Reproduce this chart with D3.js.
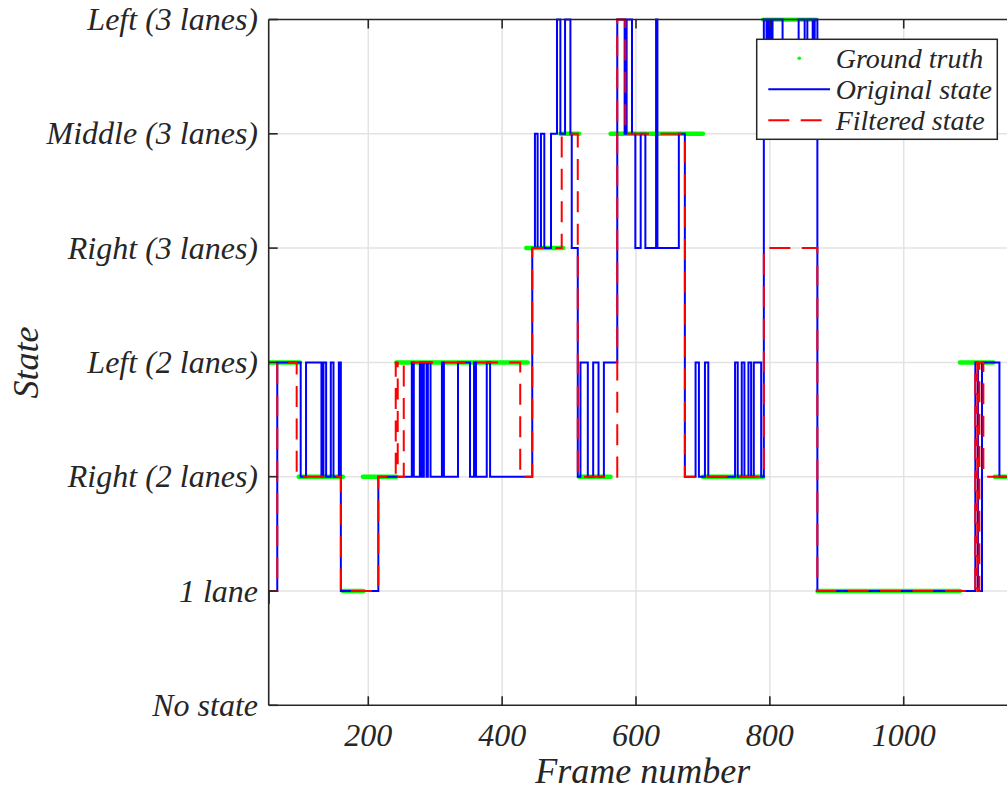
<!DOCTYPE html>
<html><head><meta charset="utf-8">
<script src="https://cdn.jsdelivr.net/npm/d3@7"></script>
<style>
body{margin:0;background:#fff;}
text{font-family:"Liberation Serif","Times New Roman",serif;font-style:italic;fill:#262626;}
</style></head>
<body><svg id="c" width="1007" height="790"></svg>
<script>
const stateLabels = ["No state","1 lane","Right (2 lanes)","Left (2 lanes)","Right (3 lanes)","Middle (3 lanes)","Left (3 lanes)"];
const xTicks = [200,400,600,800,1000];
const xDomain = [51.2, 1160];

// Original state: frames where the state changes, and the new state
const originalFrames = [51.2,51.6,64,99,107,130,133,137,144,148,156,159,215,265,268,277,280,283,287,289,293,310,313,334,352,358,361,377,382,445,449,453,458,463,473,482,487,494,502,504,513,517,528,536,544,552,572,583,586,594,599,607,614,630,632,664,673,689,694,703,708,748,752,758,762,768,772,776,787,791,795,798,801,804,819,843,852,856,864,867,871,1107,1111,1117,1143];
const originalStates = [0.9,1,3,2,3,2,3,2,3,2,3,1,2,3,2,3,2,3,2,3,2,3,2,3,2,3,2,3,2,4,5,4,5,4,5,6,5,6,5,4,2,3,2,3,2,3,6,5,6,5,4,5,4,6,4,5,2,3,2,3,2,3,2,3,2,3,2,3,2,6,5,6,5,6,5,6,5,6,5,6,1,3,1,3,2];

// Filtered state
const filteredFrames = [51.2,51.6,64,93,159,215,241,244,253,427,445,489,513,572,584,673,791,871,1107,1110,1113,1119];
const filteredStates = [0.9,1,3,2,1,2,3,2,3,2,4,5,2,6,5,2,4,1,3,1,3,2];

// Ground truth: labelled frame ranges
const truthStart = [51,96,162,192,242,436,487,515,562,700,790,871,1084,1136];
const truthEnd   = [98,162,193,242,438,491,515,562,700,790,869,1084,1134,1160];
const truthStates= [3,2,1,2,3,4,5,2,5,2,6,1,3,2];

const svg = d3.select("#c");
const L = 268.7, R = 1010.8, T = 19.5, B = 705.3;
const x = d3.scaleLinear().domain(xDomain).range([L, R]);
const y = d3.scaleLinear().domain([0, 6]).range([B, T]);
const axisColor = "#262626";

svg.append("rect").attr("width",1007).attr("height",790).attr("fill","#fff");

// grid
const grid = svg.append("g");
grid.selectAll(".gx").data(xTicks).join("line")
  .attr("x1", d=>x(d)).attr("x2", d=>x(d)).attr("y1", T).attr("y2", B)
  .attr("stroke", "#e3e3e3").attr("stroke-width", 1.5);
grid.selectAll(".gy").data(d3.range(1,6)).join("line")
  .attr("x1", L).attr("x2", R).attr("y1", d=>y(d)).attr("y2", d=>y(d))
  .attr("stroke", "#e3e3e3").attr("stroke-width", 1.5);

svg.append("clipPath").attr("id","clip").append("rect")
  .attr("x", L).attr("y", T-2).attr("width", R-L).attr("height", B-T+4);
const plot = svg.append("g").attr("clip-path","url(#clip)");

// ground truth
const truth = truthStart.map((s,i)=>({s, e: truthEnd[i], v: truthStates[i]}));
plot.selectAll(".gt").data(truth).join("line")
  .attr("x1", d=>x(d.s)).attr("x2", d=>x(d.e)).attr("y1", d=>y(d.v)).attr("y2", d=>y(d.v))
  .attr("stroke", "#00ff00").attr("stroke-width", 4.5).attr("stroke-linecap","round");

const line = d3.line().x(d=>x(d[0])).y(d=>y(d[1])).curve(d3.curveStepAfter);
const orig = originalFrames.map((f,i)=>[f, originalStates[i]]);
orig.push([xDomain[1], originalStates[originalStates.length-1]]);
const filt = filteredFrames.map((f,i)=>[f, filteredStates[i]]);
filt.push([xDomain[1], filteredStates[filteredStates.length-1]]);

plot.append("path").attr("d", line(orig)).attr("fill","none")
  .attr("stroke","#0000ff").attr("stroke-width",2).attr("stroke-linejoin","miter");
plot.append("path").attr("d", line(filt)).attr("fill","none")
  .attr("stroke","#ff0000").attr("stroke-width",2).attr("stroke-dasharray","21,11.4");

// axes box
const ax = svg.append("g").attr("stroke", axisColor).attr("stroke-width", 1.6).attr("fill","none");
ax.append("line").attr("x1",L).attr("x2",R).attr("y1",B).attr("y2",B);
ax.append("line").attr("x1",L).attr("x2",R).attr("y1",T).attr("y2",T);
ax.append("line").attr("x1",L).attr("x2",L).attr("y1",T).attr("y2",B);
// ticks
ax.selectAll(".tb").data(xTicks).join("line")
  .attr("x1", d=>x(d)).attr("x2", d=>x(d)).attr("y1", B).attr("y2", B-9);
ax.selectAll(".tt").data(xTicks).join("line")
  .attr("x1", d=>x(d)).attr("x2", d=>x(d)).attr("y1", T).attr("y2", T+9);
ax.selectAll(".tl").data(d3.range(0,7)).join("line")
  .attr("x1", L).attr("x2", L+9).attr("y1", d=>y(d)).attr("y2", d=>y(d));

// tick labels
svg.selectAll(".xl").data(xTicks).join("text")
  .attr("x", d=>x(d)).attr("y", 745.5).attr("text-anchor","middle")
  .attr("font-size", 32).text(d=>d);
svg.selectAll(".yl").data(stateLabels).join("text")
  .attr("x", 258).attr("y", (d,i)=>y(i)).attr("dy","0.33em").attr("text-anchor","end")
  .attr("font-size", 32).text(d=>d);

// axis titles
svg.append("text").attr("x", (L+R)/2 + 3).attr("y", 783).attr("text-anchor","middle")
  .attr("font-size", 36).text("Frame number");
svg.append("text").attr("transform", `translate(38,${(T+B)/2}) rotate(-90)`)
  .attr("text-anchor","middle").attr("font-size", 36).text("State");

// legend
const lg = svg.append("g");
lg.append("rect").attr("x",756.7).attr("y",39.3).attr("width",240.6).attr("height",100)
  .attr("fill","#fff").attr("stroke",axisColor).attr("stroke-width",1.5);
lg.append("circle").attr("cx",799.3).attr("cy",58.3).attr("r",1.8).attr("fill","#00ff00");
lg.append("line").attr("x1",768.3).attr("x2",830).attr("y1",89.3).attr("y2",89.3)
  .attr("stroke","#0000ff").attr("stroke-width",2);
lg.append("line").attr("x1",768.3).attr("x2",822).attr("y1",120.3).attr("y2",120.3)
  .attr("stroke","#ff0000").attr("stroke-width",2).attr("stroke-dasharray","21,11.4");
const legendTexts = ["Ground truth","Original state","Filtered state"];
lg.selectAll(".lt").data(legendTexts).join("text")
  .attr("x", 835.7).attr("y", (d,i)=>68.3 + i*30.9).attr("font-size", 28).text(d=>d);
</script></body></html>
